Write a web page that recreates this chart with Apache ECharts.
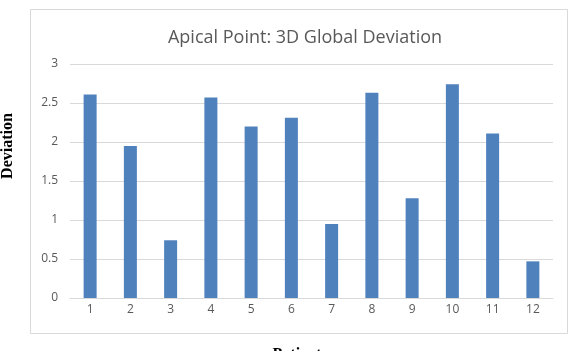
<!DOCTYPE html>
<html>
<head>
<meta charset="utf-8">
<script src="https://cdn.jsdelivr.net/npm/echarts@6/dist/echarts.min.js"></script>
<style>
  html, body { margin: 0; padding: 0; background: #fff; }
  #chart { width: 576px; height: 351px; }
</style>
</head>
<body>
<div id="chart"></div>
<script>
// patients along the x axis
const patients = ['1', '2', '3', '4', '5', '6', '7', '8', '9', '10', '11', '12'];
// 3D global deviation per patient
const deviation = [2.61, 1.95, 0.74, 2.57, 2.20, 2.31, 0.95, 2.63, 1.28, 2.74, 2.11, 0.47];
const yTicks = { min: 0, max: 3, interval: 0.5 };

const chart = echarts.init(document.getElementById('chart'));

const option = {
  animation: false,
  title: {
    text: 'Apical Point: 3D Global Deviation',
    left: 300,
    textAlign: 'center',
    top: 24,
    textStyle: { fontFamily: 'Open Sans', fontSize: 18, fontWeight: 'normal', color: '#595959' }
  },
  graphic: [
    {
      type: 'rect',
      shape: { x: 30.5, y: 9.5, width: 537, height: 324 },
      style: { fill: 'none', stroke: '#d9d9d9', lineWidth: 1 },
      z: -1
    },
    {
      type: 'text',
      x: 0,
      y: 146,
      rotation: Math.PI / 2,
      style: {
        text: 'Deviation',
        fontFamily: 'Liberation Serif',
        fontWeight: 'bold',
        fontSize: 16,
        fill: '#000',
        textAlign: 'center',
        textVerticalAlign: 'top'
      }
    },
    {
      type: 'text',
      x: 297,
      y: 347,
      style: {
        text: 'Patient',
        fontFamily: 'Liberation Serif',
        fontWeight: 'bold',
        fontSize: 16,
        fill: '#000',
        textAlign: 'center',
        textVerticalAlign: 'top'
      }
    }
  ],
  grid: { left: 70, right: 23, top: 64, bottom: 53 },
  xAxis: {
    type: 'category',
    data: patients,
    axisLine: { lineStyle: { color: '#d9d9d9' } },
    axisTick: { show: false },
    axisLabel: { color: '#595959', fontFamily: 'Open Sans', fontSize: 12, margin: 6 }
  },
  yAxis: {
    type: 'value',
    min: yTicks.min,
    max: yTicks.max,
    interval: yTicks.interval,
    axisLine: { show: false },
    axisTick: { show: false },
    splitLine: { lineStyle: { color: '#d9d9d9' } },
    axisLabel: { color: '#595959', fontFamily: 'Open Sans', fontSize: 12, margin: 12 }
  },
  series: [
    {
      type: 'bar',
      data: deviation,
      barWidth: 13,
      itemStyle: { color: '#4f81bd' }
    }
  ]
};

chart.setOption(option);
</script>
</body>
</html>
